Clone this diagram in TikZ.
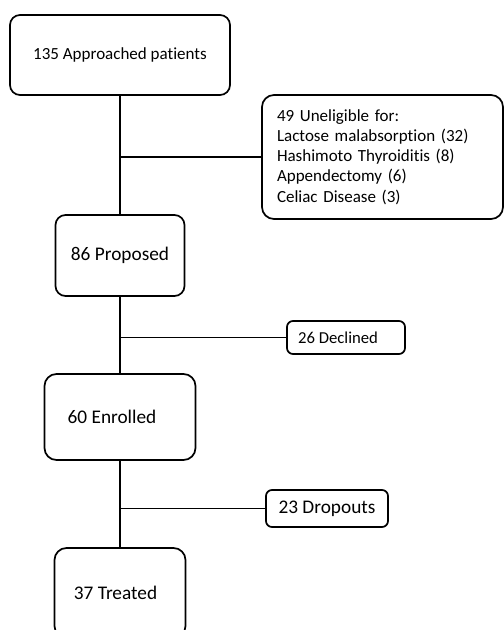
\documentclass[tikz,border=0pt]{standalone}
\usepackage{fontspec}
\setmainfont[Ligatures={NoCommon}]{Carlito}
\begin{document}
\begin{tikzpicture}[x=1pt,y=-1pt,
  box/.style={draw=black, line width=1.7pt, rounded corners=#1, inner sep=0pt, align=center},
  link/.style={draw=black, line width=1.7pt},
  smallfont/.style={font=\fontsize{17}{20.2}\selectfont},
  bigfont/.style={font=\fontsize{19.3}{23}\selectfont}]
\useasboundingbox (0,0) rectangle (504,630);
\clip (0,0) rectangle (504,630);
\node[box=10pt, smallfont, minimum width=220pt, minimum height=80pt] (appr) at (120,55) {135 Approached patients};
\node[box=12pt, smallfont, align=left, text width=211pt, inner xsep=15pt, minimum height=124pt] (unel) at (382.5,157) {49 Uneligible for:\\Lactose malabsorption (32)\\Hashimoto Thyroiditis (8)\\Appendectomy (6)\\Celiac Disease (3)};
\node[box=10pt, bigfont, minimum width=129pt, minimum height=81pt] (prop) at (120,255.5) {86 Proposed};
\node[box=6pt, font=\fontsize{16.7}{20}\selectfont, minimum width=118pt, minimum height=33pt] (decl) at (346,337.5) {26 Declined\hspace{16pt}};
\node[box=12pt, bigfont, minimum width=151pt, minimum height=86pt] (enro) at (120,417) {60 Enrolled\hspace{16pt}};
\node[box=6pt, bigfont, minimum width=122pt, minimum height=37pt] (drop) at (327,508.5) {23 Dropouts};
\node[box=12pt, bigfont, minimum width=131pt, minimum height=90pt] (trea) at (120,593) {37 Treated\hspace{9pt}};
\draw[link] (appr.south) -- (prop.north);
\draw[link] (prop.south) -- (enro.north);
\draw[link] (enro.south) -- (trea.north);
\draw[link] (appr.south |- unel.west) -- (unel.west);
\draw[link] (prop.south |- decl.west) -- (decl.west);
\draw[link] (enro.south |- drop.west) -- (drop.west);
\end{tikzpicture}
\end{document}
